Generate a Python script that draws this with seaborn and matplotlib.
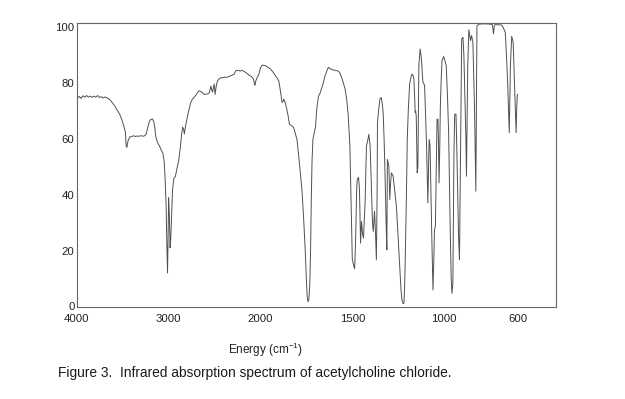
import numpy as np
import pandas as pd
import matplotlib
matplotlib.use("Agg")
import matplotlib.pyplot as plt
import seaborn as sns

# Wavenumber (cm^-1) and transmittance (%)
wavenumber = [
    4000, 3985, 3970, 3950, 3930, 3910, 3890, 3870, 3850, 3830, 3810, 3790, 3770, 3750, 3730, 3710,
    3690, 3670, 3655, 3640, 3610, 3585, 3560, 3530, 3505, 3486, 3468, 3460, 3452, 3440, 3420, 3400,
    3380, 3360, 3340, 3320, 3300, 3270, 3250, 3240, 3225, 3210, 3195, 3175, 3160, 3150, 3140, 3130,
    3110, 3097, 3075, 3060, 3045, 3035, 3025, 3017, 3010, 3004, 2998, 2990, 2982, 2975, 2965, 2955,
    2940, 2925, 2910, 2890, 2870, 2856, 2845, 2835, 2827, 2815, 2800, 2780, 2760, 2740, 2720, 2700,
    2680, 2665, 2645, 2625, 2610, 2590, 2570, 2555, 2538, 2528, 2521, 2510, 2503, 2492, 2480, 2467,
    2450, 2430, 2410, 2390, 2376, 2350, 2322, 2300, 2286, 2275, 2265, 2240, 2220, 2197, 2180, 2160,
    2140, 2124, 2105, 2089, 2075, 2065, 2059, 2050, 2034, 2020, 2009, 2000, 1990, 1980, 1973, 1960,
    1945, 1930, 1918, 1908, 1900, 1891, 1882, 1876, 1873, 1866, 1860, 1849, 1842, 1835, 1825, 1819,
    1810, 1801, 1790, 1780, 1774, 1765, 1756, 1750, 1745, 1741, 1736, 1731, 1727, 1723, 1719, 1714,
    1708, 1700, 1693, 1684, 1675, 1665, 1657, 1648, 1638, 1630, 1620, 1607, 1590, 1575, 1568, 1558,
    1548, 1539, 1530, 1522, 1513, 1506, 1500, 1492, 1487, 1482, 1476, 1473, 1466, 1461, 1455, 1450,
    1444, 1439, 1430, 1423, 1416, 1410, 1403, 1396, 1390, 1386, 1379, 1373, 1369, 1365, 1363, 1358,
    1350, 1342, 1336, 1332, 1327, 1323, 1316, 1312, 1309, 1305, 1301, 1296, 1292, 1287, 1278, 1270,
    1260, 1250, 1242, 1235, 1230, 1224, 1219, 1215, 1212, 1206, 1201, 1195, 1188, 1180, 1174, 1168,
    1165, 1161, 1158, 1155, 1152, 1149, 1147, 1143, 1140, 1138, 1131, 1126, 1122, 1118, 1115, 1107,
    1102, 1096, 1089, 1085, 1082, 1077, 1072, 1068, 1061, 1056, 1053, 1048, 1043, 1039, 1034, 1031,
    1028, 1024, 1021, 1016, 1012, 1003, 998, 989, 982, 976, 967, 962, 958, 953, 947, 943,
    936, 932, 928, 922, 917, 910, 905, 898, 893, 888, 882, 879, 875, 872, 866, 857,
    851, 844, 835, 828, 822, 811, 780, 750, 738, 732, 727, 719, 690, 683, 668, 660,
    655, 646, 640, 633, 625, 618, 609, 606, 603, 600,
]
transmittance = [
    75.8, 74.8, 75.3, 74.6, 75.5, 75.0, 75.6, 75.0, 75.4, 74.9, 75.4, 75.0, 75.6, 74.9, 75.2, 74.7,
    75.1, 74.8, 74.5, 74.2, 73.0, 71.9, 70.5, 68.9, 66.8, 64.7, 62.5, 57.5, 57.0, 59.3, 60.8, 60.9,
    61.2, 60.9, 61.1, 61.0, 61.2, 61.0, 61.4, 62.0, 64.1, 66.0, 67.0, 67.2, 66.3, 64.5, 61.5, 59.8,
    58.2, 57.5, 55.8, 55.0, 51.5, 45.0, 36.0, 22.0, 12.0, 24.0, 39.0, 33.0, 21.0, 24.0, 33.0, 42.0,
    46.0, 46.5, 49.0, 52.0, 57.0, 62.0, 64.3, 63.5, 61.8, 64.5, 67.0, 70.0, 72.8, 74.3, 75.0, 75.8,
    76.8, 77.3, 77.0, 76.5, 76.0, 76.1, 76.2, 76.6, 79.0, 77.5, 76.8, 78.5, 79.7, 76.0, 79.0, 80.8,
    81.5, 82.0, 81.9, 82.2, 82.1, 82.3, 82.7, 83.0, 83.2, 84.0, 84.6, 84.6, 84.4, 84.6, 84.3, 83.9,
    83.4, 82.9, 82.6, 82.1, 81.5, 79.8, 79.3, 80.8, 82.1, 83.0, 84.0, 85.5, 86.5, 86.4, 86.3, 85.8,
    85.1, 83.9, 82.7, 81.8, 80.9, 77.3, 73.1, 73.5, 74.3, 73.3, 71.9, 68.3, 65.3, 65.0, 64.5, 64.1,
    62.0, 59.9, 53.0, 46.0, 41.9, 32.0, 20.3, 10.0, 3.5, 1.7, 2.5, 8.0, 20.0, 38.0, 52.0, 60.0,
    62.0, 64.5, 71.0, 75.3, 76.5, 78.5, 80.3, 82.7, 84.5, 85.7, 85.2, 84.8, 84.6, 84.3, 83.7, 82.1,
    80.0, 77.9, 74.0, 68.3, 57.5, 35.0, 17.0, 14.5, 13.5, 23.9, 42.0, 45.5, 46.3, 42.0, 22.7, 30.5,
    26.0, 24.5, 38.0, 57.5, 59.5, 61.7, 57.5, 43.1, 30.0, 26.9, 34.1, 25.0, 16.7, 40.0, 65.9, 69.5,
    74.3, 74.9, 72.0, 69.5, 60.0, 50.3, 30.0, 20.3, 52.7, 51.5, 50.3, 38.3, 44.0, 47.9, 46.7, 42.0,
    35.9, 24.0, 14.3, 6.0, 2.3, 1.0, 1.2, 8.0, 16.7, 38.0, 59.9, 71.0, 79.7, 82.5, 83.3, 82.5,
    81.5, 75.5, 69.5, 70.0, 68.0, 55.0, 47.9, 50.3, 70.0, 86.3, 92.3, 90.0, 86.9, 82.0, 80.3, 79.3,
    70.0, 57.5, 37.1, 50.0, 59.9, 57.5, 40.0, 26.3, 5.9, 18.0, 27.5, 28.7, 50.0, 67.1, 67.1, 58.0,
    44.3, 58.0, 71.9, 82.0, 88.1, 89.6, 88.5, 86.3, 75.0, 62.3, 26.3, 10.0, 4.7, 8.3, 55.1, 68.9,
    68.9, 58.0, 44.3, 25.0, 16.7, 62.3, 95.9, 96.5, 90.0, 76.7, 60.0, 46.7, 70.0, 86.3, 99.2, 95.3,
    97.1, 94.7, 70.7, 41.3, 100.6, 101.2, 101.3, 101.2, 101.0, 97.7, 100.9, 101.0, 100.9, 100.5, 98.3, 88.0,
    80.3, 62.3, 86.3, 96.8, 94.7, 80.3, 62.3, 70.0, 75.5, 76.1,
]
x_ticks = [4000, 3000, 2000, 1500, 1000, 600]
y_ticks = [0, 20, 40, 60, 80, 100]
x_label = "Energy (cm$^{-1}$)"
caption = "Figure 3.  Infrared absorption spectrum of acetylcholine chloride."

df = pd.DataFrame({"wavenumber": wavenumber, "transmittance": transmittance})

sns.set_theme(style="white")
plt.rcParams["font.family"] = ["Liberation Sans", "DejaVu Sans"]
plt.rcParams["mathtext.fontset"] = "custom"
plt.rcParams["mathtext.rm"] = "Liberation Sans"
plt.rcParams["mathtext.it"] = "Liberation Sans"

fig = plt.figure(figsize=(6.25, 3.99), dpi=100)
ax = fig.add_axes([0.1224, 0.2298, 0.7672, 0.7133])

sns.lineplot(data=df, x="wavenumber", y="transmittance", sort=False,
             estimator=None, color="#505050", linewidth=0.7, ax=ax)

# IR chart convention: scale above 2000 cm^-1 compressed by a factor of 2
def fwd(x):
    x = np.asarray(x, dtype=float)
    return np.where(x <= 2000, x, 2000 + (x - 2000) / 2.0)

def inv(u):
    u = np.asarray(u, dtype=float)
    return np.where(u <= 2000, u, 2000 + (u - 2000) * 2.0)

ax.set_xscale("function", functions=(fwd, inv))
ax.set_xlim(4000, 392)
ax.set_ylim(-0.3, 101.7)
ax.set_xticks(x_ticks)
ax.set_xticklabels([str(t) for t in x_ticks])
ax.set_yticks(y_ticks)
ax.set_yticklabels([str(t) for t in y_ticks])
ax.minorticks_off()
ax.tick_params(axis="both", direction="in", length=2.5, width=0.6,
               colors="#555555", labelcolor="#222222", labelsize=8.2)
ax.tick_params(axis="x", pad=5)
ax.tick_params(axis="y", pad=1.5)
ax.set_xlabel("")
ax.set_ylabel("")
for s in ax.spines.values():
    s.set_visible(True)
    s.set_color("#666666")
    s.set_linewidth(0.8)

fig.text(266 / 625, 1 - 350 / 399, x_label, ha="center", va="center",
         fontsize=8.5, color="#222222")
fig.text(255 / 625, 1 - 373 / 399, caption, ha="center", va="center",
         fontsize=9.9, color="#1a1a1a")

fig.savefig("out.png", dpi=100)
